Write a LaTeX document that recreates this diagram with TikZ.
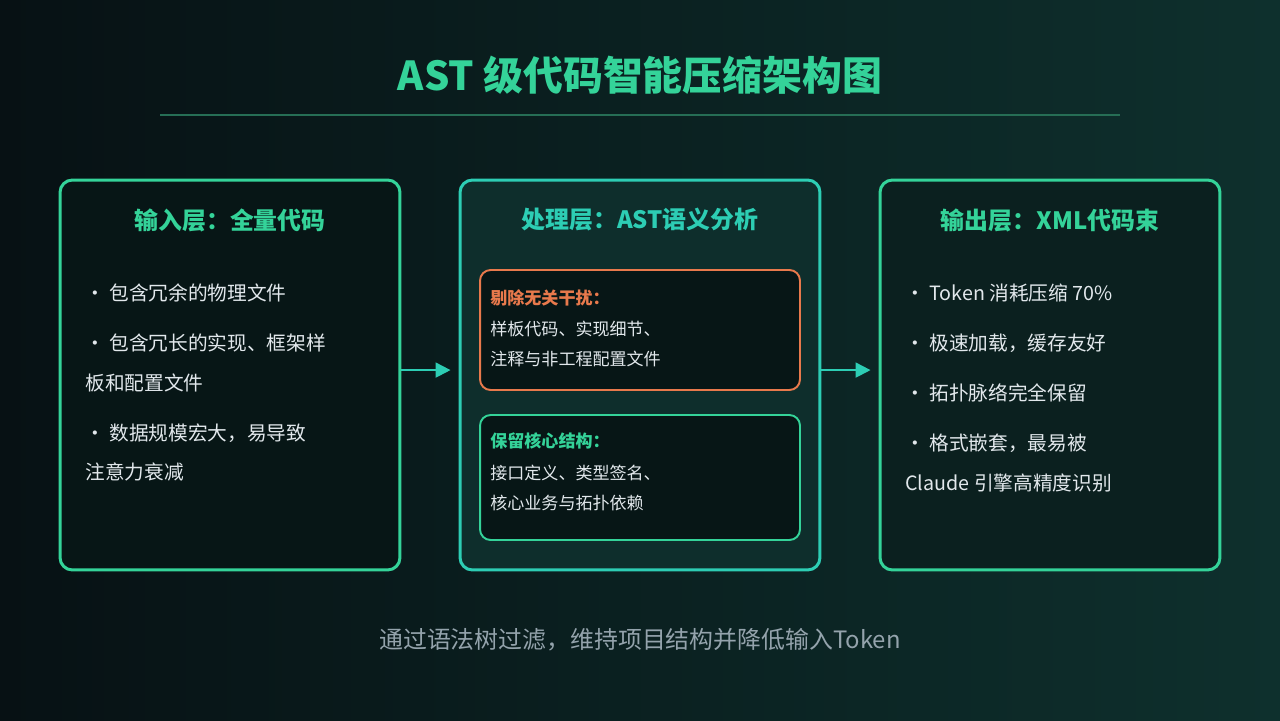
\documentclass[tikz,border=0pt]{standalone}
\usepackage{fontspec}
\setmainfont{Noto Sans CJK SC}
\usetikzlibrary{arrows.meta, positioning}
\definecolor{bgleft}{RGB}{7, 17, 20}
\definecolor{bgright}{RGB}{14, 48, 45}
\definecolor{mint}{RGB}{52, 211, 153}
\definecolor{teal1}{RGB}{45, 205, 180}
\definecolor{coral}{RGB}{232, 121, 76}
\definecolor{bodytext}{RGB}{226, 232, 236}
\definecolor{capgrey}{RGB}{148, 163, 172}
\definecolor{rule}{RGB}{38, 110, 85}
\definecolor{infill}{RGB}{7, 22, 22}
\definecolor{procfill}{RGB}{14, 46, 44}
\definecolor{outfill}{RGB}{11, 32, 31}

\begin{document}
\begin{tikzpicture}[
  x=0.02cm, y=-0.02cm,
  layer/.style={draw=#1, line width=1.7pt, rounded corners=7pt, minimum width=6.8cm, minimum height=7.8cm, inner sep=0pt},
  inbox/.style={draw=#1, line width=1.1pt, rounded corners=6pt, fill=infill, minimum width=6.4cm, inner sep=0pt},
  head/.style={text=#1, font=\fontsize{13.6}{16}\selectfont\bfseries, inner sep=0pt},
  subhead/.style={anchor=west, text=#1, font=\fontsize{9.7}{12}\selectfont\bfseries, inner sep=0pt},
  txt/.style={anchor=west, text=bodytext, font=\fontsize{11.2}{13}\selectfont, inner sep=0pt},
  small/.style={anchor=west, text=bodytext, font=\fontsize{9.7}{12}\selectfont, inner sep=0pt},
  arr/.style={draw=teal1, line width=1.1pt, -{Triangle[length=8.5pt, width=8.5pt]}, shorten >=0.16cm},
]
  % background
  \shade[left color=bgleft, right color=bgright] (0,0) rectangle (1280,720);

  % title
  \node[text=mint, font=\fontsize{22.7}{26}\selectfont\bfseries, inner sep=0pt] (title) at (640,75) {AST 级代码智能压缩架构图};
  \coordinate (ruleL) at (160,115);
  \coordinate (ruleR) at (1120,115);
  \draw[rule, line width=1.1pt] (ruleL) -- (ruleR);

  % three layers
  \node[layer=mint, fill=infill] (in) at (230,375) {};
  \node[layer=teal1, fill=procfill, minimum width=7.2cm] (proc) at (640,375) {};
  \node[layer=mint, fill=outfill] (out) at (1050,375) {};

  \node[head=mint] (inhead) at (230,220) {输入层：全量代码};
  \node[head=teal1] (prochead) at (640,220) {处理层：AST语义分析};
  \node[head=mint] (outhead) at (1050,220) {输出层：XML代码束};

  % input layer
  \node[txt] (in1) at (85,293) {・ 包含冗余的物理文件};
  \node[txt] (in2) at (85,343) {・ 包含冗长的实现、框架样};
  \node[txt] (in2b) at (85,383) {板和配置文件};
  \node[txt] (in3) at (85,433) {・ 数据规模宏大，易导致};
  \node[txt] (in3b) at (85,472) {注意力衰减};

  % processing layer
  \node[inbox=coral, minimum height=2.4cm] (drop) at (640,330) {};
  \node[subhead=coral] (drophead) at (490,298) {剔除无关干扰：};
  \node[small] (drop1) at (490,329) {样板代码、实现细节、};
  \node[small] (drop2) at (490,359) {注释与非工程配置文件};

  \node[inbox=mint, minimum height=2.5cm] (keep) at (640,477.5) {};
  \node[subhead=mint] (keephead) at (490,441) {保留核心结构：};
  \node[small] (keep1) at (490,473) {接口定义、类型签名、};
  \node[small] (keep2) at (490,503) {核心业务与拓扑依赖};

  % output layer
  \node[txt] (out1) at (905,293) {・ Token 消耗压缩 70\%};
  \node[txt] (out2) at (905,343) {・ 极速加载，缓存友好};
  \node[txt] (out3) at (905,393) {・ 拓扑脉络完全保留};
  \node[txt] (out4) at (905,443) {・ 格式嵌套，最易被};
  \node[txt] (out4b) at (905,483) {Claude 引擎高精度识别};

  % flow
  \draw[arr] ([yshift=2.8pt]in.east) -- ([yshift=2.8pt]proc.west);
  \draw[arr] ([yshift=2.8pt]proc.east) -- ([yshift=2.8pt]out.west);

  % caption
  \node[text=capgrey, font=\fontsize{13.6}{16}\selectfont, inner sep=0pt] (caption) at (640,640) {通过语法树过滤，维持项目结构并降低输入Token};
\end{tikzpicture}
\end{document}
